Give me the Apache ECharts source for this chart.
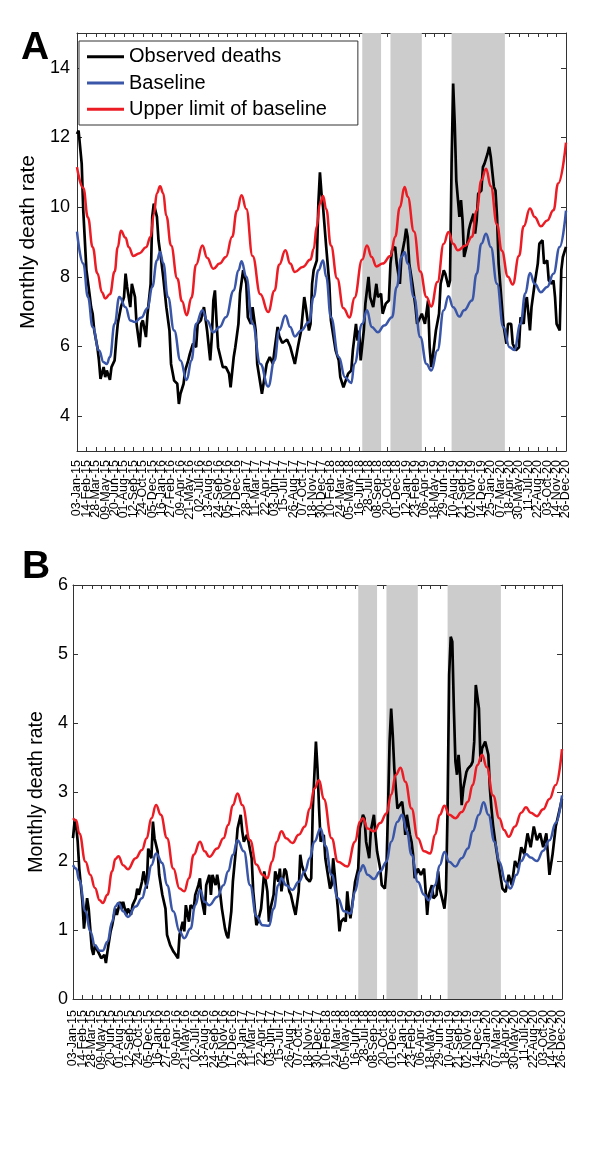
<!DOCTYPE html>
<html><head><meta charset="utf-8">
<script src="https://cdn.jsdelivr.net/npm/echarts@6/dist/echarts.min.js"></script>
<style>html,body{margin:0;padding:0;background:#fff}#c{width:600px;height:1160px}</style>
</head><body><div id="c"></div>
<script>
// Week index 0 = 03-Jan-15, weekly data; tick labels every 6 weeks
const tickLabels = ['03-Jan-15','14-Feb-15','28-Mar-15','09-May-15','20-Jun-15','01-Aug-15','12-Sep-15','24-Oct-15','05-Dec-15',
 '16-Jan-16','27-Feb-16','09-Apr-16','21-May-16','02-Jul-16','13-Aug-16','24-Sep-16','05-Nov-16','17-Dec-16',
 '28-Jan-17','11-Mar-17','22-Apr-17','03-Jun-17','15-Jul-17','26-Aug-17','07-Oct-17','18-Nov-17','30-Dec-17',
 '10-Feb-18','24-Mar-18','05-May-18','16-Jun-18','28-Jul-18','08-Sep-18','20-Oct-18','01-Dec-18',
 '12-Jan-19','23-Feb-19','06-Apr-19','18-May-19','29-Jun-19','10-Aug-19','21-Sep-19','02-Nov-19','14-Dec-19',
 '25-Jan-20','07-Mar-20','18-Apr-20','30-May-20','11-Jul-20','22-Aug-20','03-Oct-20','14-Nov-20','26-Dec-20'];
const bands = [[182,194],[200,220],[239,273]];

// Panel A: [week, rate]
const obsA = [[0,12.1],[1,12.2],[3,11.25],[4,9.9],[6,8.2],[8,7.5],[9,7.13],[10,6.94],[11,6.46],[13,5.98],[14,5.6],[15,5.07],[17,5.41],[18,5.12],[19,5.31],[21,5.04],[22,5.41],[24,5.6],[25,6.17],[26,6.65],[28,7.13],[30,7.42],[31,8.09],[32,7.71],[34,7.13],[35,7.8],[37,7.42],[38,6.65],[40,5.98],[41,6.65],[42,6.75],[44,6.27],[45,6.94],[47,7.8],[48,9.72],[49,10.1],[51,9.72],[52,9.05],[54,8.38],[55,8.0],[57,7.13],[59,6.46],[60,5.5],[62,5.02],[64,4.93],[65,4.35],[66,4.64],[68,4.93],[69,5.31],[71,5.6],[72,5.79],[74,6.08],[76,5.98],[77,6.65],[79,6.75],[81,7.13],[82,7.13],[83,6.46],[85,5.6],[86,6.27],[87,7.32],[88,7.61],[89,6.75],[90,5.98],[92,5.6],[93,5.41],[95,5.41],[97,5.22],[98,4.83],[100,5.7],[101,5.98],[103,6.65],[104,7.52],[106,8.19],[108,7.8],[109,6.84],[111,6.65],[112,7.13],[114,6.46],[115,5.5],[117,4.93],[118,4.64],[120,5.22],[121,5.5],[123,5.7],[125,5.5],[126,5.89],[128,6.56],[129,6.3],[131,6.1],[134,6.2],[136,6.0],[139,5.5],[141,6.0],[143,6.46],[145,7.42],[146,7.13],[148,6.46],[149,6.65],[150,7.8],[151,8.19],[153,8.47],[154,10.1],[155,11.0],[156,10.39],[157,10.0],[159,8.86],[161,7.8],[162,6.75],[165,5.89],[167,5.6],[168,5.12],[170,4.83],[171,4.79],[173,5.22],[175,5.31],[176,5.89],[178,6.65],[179,6.17],[180,6.46],[181,5.6],[183,6.46],[184,7.23],[186,8.0],[187,7.42],[189,7.13],[191,7.8],[192,7.42],[194,7.52],[195,6.94],[197,7.23],[199,7.32],[200,8.38],[201,8.76],[203,8.86],[204,8.38],[206,7.8],[207,8.57],[209,9.05],[210,9.38],[211,9.14],[212,8.38],[214,7.8],[216,7.13],[217,6.65],[219,6.84],[220,6.94],[222,6.65],[224,7.32],[225,5.98],[226,5.41],[227,5.7],[229,6.46],[231,6.94],[232,7.8],[234,8.19],[235,8.09],[237,7.71],[238,7.9],[239,11.25],[240,13.55],[241,12.4],[242,10.77],[244,9.72],[245,10.2],[246,9.62],[247,8.57],[249,8.95],[250,9.34],[251,9.53],[253,9.81],[254,9.24],[255,9.62],[256,10.39],[258,10.48],[259,11.15],[260,11.25],[262,11.54],[263,11.73],[264,11.44],[266,10.58],[267,10.48],[268,9.72],[269,8.38],[271,7.23],[272,6.65],[274,6.08],[275,6.65],[277,6.65],[278,6.08],[280,5.89],[282,5.98],[283,6.84],[285,6.65],[286,7.23],[287,7.42],[289,6.46],[290,7.13],[292,7.8],[294,8.38],[295,8.95],[297,9.05],[298,8.38],[300,8.47],[301,7.9],[303,7.8],[304,7.9],[305,7.42],[306,6.65],[308,6.46],[309,8.19],[310,8.57],[312,8.86]];
const baseA = [[0,9.3],[4,8.38],[7,7.42],[10,6.56],[14,5.89],[17,5.55],[19,5.5],[21,5.7],[24,6.65],[27,7.42],[31,7.13],[34,6.75],[37,6.7],[41,6.83],[45,7.1],[48,7.71],[51,8.47],[53,8.71],[55,8.4],[58,7.42],[62,6.46],[66,5.6],[70,5.04],[73,5.6],[76,6.65],[80,7.04],[83,6.75],[87,6.41],[91,6.56],[95,6.84],[100,7.61],[103,8.19],[105,8.45],[108,8.0],[112,6.65],[117,5.5],[122,4.85],[126,5.6],[129,6.46],[133,6.89],[136,6.56],[139,6.29],[143,6.46],[148,6.7],[151,7.42],[154,8.19],[157,8.47],[159,8.0],[162,6.84],[167,5.7],[171,5.12],[175,4.95],[177,5.5],[182,6.65],[185,7.04],[188,6.56],[192,6.41],[196,6.6],[201,6.84],[204,7.71],[207,8.57],[209,8.71],[211,8.38],[215,7.42],[219,6.27],[223,5.5],[226,5.31],[230,5.89],[234,7.04],[237,7.44],[240,7.13],[244,6.86],[247,7.04],[252,7.32],[255,8.09],[258,8.95],[261,9.24],[264,8.86],[268,7.8],[272,6.56],[276,5.98],[279,5.9],[283,6.65],[286,7.52],[289,8.11],[292,7.8],[296,7.56],[300,7.71],[304,8.09],[308,8.86],[312,9.9]];
const upperA = [[0,11.15],[4,10.55],[7,9.7],[10,8.85],[13,8.1],[16,7.55],[18,7.38],[21,7.5],[24,8.15],[26,8.85],[28,9.32],[31,9.12],[33,8.85],[36,8.6],[40,8.68],[44,8.85],[47,9.15],[49,9.8],[51,10.4],[53,10.6],[55,10.4],[57,9.75],[60,8.9],[64,7.95],[67,7.3],[70,6.9],[73,7.4],[76,8.35],[80,8.9],[83,8.55],[87,8.23],[91,8.38],[95,8.57],[99,9.15],[102,9.9],[105,10.34],[108,9.95],[112,8.6],[117,7.5],[122,6.99],[126,7.6],[129,8.35],[133,8.76],[136,8.38],[139,8.14],[144,8.28],[149,8.5],[151,8.8],[153,9.45],[155,10.1],[157,10.32],[159,9.95],[162,8.9],[166,7.95],[170,7.1],[174,6.83],[177,7.4],[182,8.5],[185,8.9],[188,8.57],[191,8.3],[195,8.38],[200,8.6],[203,9.15],[206,10.0],[209,10.58],[211,10.3],[215,9.3],[219,8.15],[223,7.42],[226,7.15],[230,7.85],[234,8.95],[237,9.29],[240,8.95],[243,8.76],[248,8.9],[252,9.15],[255,9.9],[258,10.77],[261,11.1],[264,10.6],[268,9.5],[271,8.75],[275,8.0],[278,7.78],[282,8.6],[285,9.45],[289,9.96],[292,9.72],[296,9.45],[300,9.62],[304,9.91],[307,10.68],[312,11.85]];

// Panel B: [week, rate]
const obsB = [[0,2.33],[1,2.57],[2,2.52],[3,2.28],[4,1.89],[6,1.41],[7,1.02],[8,1.02],[9,1.46],[10,1.31],[12,0.73],[13,0.64],[14,0.78],[15,0.73],[17,0.64],[18,0.59],[20,0.64],[21,0.52],[22,0.69],[24,0.98],[25,1.07],[27,1.31],[28,1.22],[30,1.41],[31,1.31],[32,1.41],[34,1.22],[35,1.31],[37,1.22],[38,1.36],[40,1.46],[41,1.6],[42,1.51],[44,1.7],[45,1.85],[47,1.6],[48,2.18],[50,2.04],[51,2.57],[52,2.33],[54,2.14],[55,1.8],[57,1.51],[59,1.31],[60,0.93],[62,0.78],[64,0.69],[65,0.66],[67,0.59],[68,0.93],[70,1.12],[71,0.98],[72,1.36],[74,1.12],[75,1.36],[77,1.31],[78,1.51],[80,1.65],[81,1.75],[82,1.46],[84,1.22],[85,1.65],[87,1.8],[88,1.51],[89,1.8],[91,1.65],[92,1.8],[94,1.51],[95,1.31],[97,1.02],[98,0.93],[99,0.88],[101,1.27],[102,1.7],[104,2.18],[105,2.47],[107,2.67],[108,2.43],[109,2.28],[111,2.38],[112,2.28],[114,2.04],[115,1.56],[117,1.07],[118,1.12],[120,1.31],[121,1.56],[122,1.85],[124,1.56],[125,1.12],[126,1.31],[128,1.51],[129,1.85],[131,1.7],[132,1.89],[133,1.56],[135,1.89],[136,1.85],[138,1.56],[139,1.51],[141,1.31],[142,1.22],[144,1.56],[145,2.09],[146,1.94],[148,1.8],[149,1.75],[151,1.7],[152,1.75],[153,2.76],[155,3.73],[156,3.34],[157,2.76],[158,2.28],[160,2.38],[161,2.04],[162,1.89],[164,1.6],[165,1.65],[166,2.04],[167,1.8],[169,1.31],[170,0.98],[171,1.12],[173,1.17],[174,1.12],[175,1.56],[176,1.31],[177,1.17],[179,1.51],[180,1.7],[182,1.89],[183,2.47],[185,2.67],[186,2.62],[187,2.28],[189,2.04],[190,2.43],[192,2.67],[193,2.38],[194,2.14],[196,1.89],[197,1.65],[199,1.6],[200,1.89],[201,2.76],[202,3.73],[203,4.21],[204,3.83],[205,3.34],[207,2.76],[208,2.76],[210,2.86],[211,2.67],[212,2.38],[213,2.67],[215,2.38],[216,2.28],[217,2.09],[218,1.75],[220,1.89],[221,1.89],[222,1.8],[224,1.89],[225,1.56],[226,1.22],[227,1.51],[229,1.65],[230,1.46],[232,1.51],[233,1.85],[234,1.6],[236,1.41],[237,1.31],[238,1.56],[239,2.76],[240,4.7],[241,5.25],[242,5.18],[243,4.21],[244,3.44],[245,3.25],[246,3.54],[247,3.25],[248,2.81],[249,3.05],[251,3.29],[252,3.34],[254,3.39],[255,3.44],[256,3.73],[257,4.55],[258,4.55],[259,4.21],[260,3.44],[261,3.63],[262,3.68],[263,3.73],[265,3.54],[266,3.05],[267,2.76],[268,2.52],[270,2.18],[272,1.89],[274,1.6],[276,1.55],[278,1.8],[280,1.65],[282,2.0],[284,1.9],[286,2.2],[288,2.1],[290,2.4],[292,2.2],[294,2.5],[296,2.3],[298,2.4],[300,2.2],[302,2.4],[304,1.8],[306,2.1],[308,2.5],[310,2.7],[312,2.9]];
const baseB = [[0,1.94],[2,1.89],[4,1.72],[8,1.27],[11,0.98],[14,0.78],[17,0.7],[19,0.7],[22,0.83],[25,1.12],[27,1.34],[29,1.39],[32,1.27],[35,1.19],[40,1.34],[44,1.46],[47,1.65],[50,1.94],[53,2.11],[57,1.97],[60,1.65],[64,1.27],[68,0.98],[71,0.88],[75,1.02],[78,1.36],[81,1.58],[84,1.41],[87,1.36],[92,1.48],[96,1.65],[99,1.85],[102,2.09],[105,2.3],[109,2.14],[113,1.65],[117,1.2],[121,1.07],[125,1.06],[128,1.31],[131,1.65],[133,1.75],[136,1.65],[140,1.58],[144,1.7],[148,1.85],[151,2.04],[154,2.28],[158,2.47],[161,2.22],[165,1.8],[169,1.46],[173,1.27],[177,1.24],[180,1.56],[183,1.85],[185,1.94],[188,1.8],[192,1.74],[196,1.85],[200,1.99],[203,2.28],[207,2.57],[210,2.67],[213,2.43],[216,2.09],[220,1.7],[224,1.51],[227,1.43],[231,1.65],[234,1.94],[237,2.13],[240,1.99],[244,1.92],[248,2.04],[252,2.18],[255,2.43],[259,2.67],[262,2.85],[265,2.67],[269,2.28],[272,1.99],[276,1.7],[279,1.6],[283,1.8],[286,2.0],[289,2.1],[292,2.05],[296,2.0],[300,2.15],[304,2.3],[308,2.55],[312,2.95]];
const upperB = [[0,2.62],[2,2.59],[4,2.4],[8,1.99],[11,1.8],[14,1.61],[17,1.43],[19,1.39],[22,1.51],[25,1.85],[27,2.03],[29,2.07],[32,1.94],[35,1.88],[40,2.04],[44,2.16],[47,2.33],[50,2.62],[53,2.81],[56,2.67],[60,2.33],[64,1.89],[68,1.6],[71,1.56],[74,1.75],[77,2.09],[81,2.28],[84,2.14],[87,2.06],[92,2.18],[96,2.33],[99,2.52],[102,2.81],[105,2.98],[108,2.81],[113,2.3],[117,1.95],[121,1.8],[124,1.75],[127,1.99],[130,2.28],[133,2.43],[136,2.33],[140,2.26],[144,2.38],[148,2.5],[151,2.76],[154,3.05],[157,3.17],[160,2.9],[165,2.33],[169,1.99],[175,1.92],[180,2.28],[183,2.57],[185,2.62],[188,2.47],[192,2.43],[196,2.55],[200,2.69],[203,2.96],[206,3.25],[209,3.35],[212,3.15],[216,2.76],[220,2.33],[224,2.14],[228,2.11],[231,2.38],[234,2.67],[237,2.8],[240,2.67],[244,2.62],[248,2.71],[252,2.86],[255,3.1],[258,3.39],[261,3.54],[264,3.36],[268,2.95],[272,2.62],[275,2.45],[278,2.35],[282,2.5],[286,2.7],[289,2.78],[292,2.7],[296,2.65],[300,2.75],[304,2.9],[308,3.1],[312,3.62]];

const FONT = 'Liberation Sans, Arial, Helvetica, sans-serif';
const AX = '#333';
const BLACK = '#000000', BLUE = '#3a56a8', RED = '#ec1c24';

// Per grid: [0] data axis (value, hidden), [1] bottom tick/label axis (category), [2] top tick axis (category)
function xAxes(gi, labelMargin) {
  const cat = { gridIndex: gi, type: 'category', data: tickLabels, boundaryGap: false,
    axisLine: { show: true, onZero: false, lineStyle: { color: AX, width: 1 } },
    axisTick: { show: true, inside: true, length: 4, interval: 0, lineStyle: { color: AX } },
    splitLine: { show: false } };
  return [
    { gridIndex: gi, type: 'value', min: 0, max: 312, show: false },
    Object.assign({}, cat, { position: 'bottom',
      axisLabel: { show: true, interval: 0, rotate: 90, margin: labelMargin, fontSize: 12.5, color: '#000', fontFamily: FONT } }),
    Object.assign({}, cat, { position: 'top', axisLabel: { show: false } })
  ];
}
function yAxes(gi, min, max, ticks, nameSize, nameGap, labelMargin) {
  const base = { gridIndex: gi, type: 'value', min: min, max: max,
    axisLine: { show: true, onZero: false, lineStyle: { color: AX, width: 1 } },
    axisTick: { show: true, inside: true, length: 5, customValues: ticks, lineStyle: { color: AX } },
    splitLine: { show: false } };
  return [
    Object.assign({}, base, { position: 'left', name: 'Monthly death rate', nameLocation: 'middle', nameGap: nameGap,
      nameTextStyle: { fontSize: nameSize, color: '#000', fontFamily: FONT },
      axisLabel: { show: true, customValues: ticks, margin: labelMargin, fontSize: 18, color: '#000', fontFamily: FONT } }),
    Object.assign({}, base, { position: 'right', axisLabel: { show: false } })
  ];
}
function lineSeries(name, data, color, width, xi, yi, z) {
  return { name: name, type: 'line', data: data, xAxisIndex: xi, yAxisIndex: yi, symbol: 'none',
    smooth: false, lineStyle: { color: color, width: width }, itemStyle: { color: color }, z: z, silent: true };
}
function smoothSeries(name, data, color, xi, yi, z) {
  const s = lineSeries(name, data, color, 2.5, xi, yi, z);
  s.smooth = 0.45; s.smoothMonotone = 'x';
  return s;
}
function bandSeries(xi, yi) {
  return { type: 'line', data: [], xAxisIndex: xi, yAxisIndex: yi, z: 1, silent: true,
    markArea: { silent: true, itemStyle: { color: '#cccccc', opacity: 1 },
      data: bands.map(b => [{ xAxis: b[0] }, { xAxis: b[1] }]) } };
}

const chart = echarts.init(document.getElementById('c'), null, { renderer: 'canvas' });
chart.setOption({
  animation: false,
  backgroundColor: '#fff',
  textStyle: { fontFamily: FONT },
  grid: [
    { left: 77, top: 33, width: 489, height: 418, containLabel: false },
    { left: 73, top: 585, width: 489, height: 414, containLabel: false }
  ],
  xAxis: xAxes(0, 9).concat(xAxes(1, 11)),
  yAxis: yAxes(0, 3, 15, [4, 6, 8, 10, 12, 14], 21, 30, 7).concat(yAxes(1, 0, 6, [0, 1, 2, 3, 4, 5, 6], 19.5, 21, 5)),
  legend: {
    show: true, orient: 'vertical', left: 79, top: 41,
    padding: [5.7, 31, 5.7, 8], itemGap: 6.3, itemWidth: 37, itemHeight: 3,
    borderColor: '#333', borderWidth: 1, backgroundColor: '#fff', selectedMode: false,
    icon: 'rect', z: 10,
    textStyle: { fontSize: 20, lineHeight: 20, color: '#000', fontFamily: FONT },
    data: ['Observed deaths', 'Baseline', 'Upper limit of baseline']
  },
  graphic: [
    { type: 'text', left: 21, top: 29, style: { text: 'A', font: 'bold 39px ' + FONT, fill: '#000' } },
    { type: 'text', left: 22, top: 548, style: { text: 'B', font: 'bold 39px ' + FONT, fill: '#000' } }
  ],
  series: [
    bandSeries(0, 0),
    lineSeries('Observed deaths', obsA, BLACK, 2.7, 0, 0, 3),
    smoothSeries('Baseline', baseA, BLUE, 0, 0, 4),
    smoothSeries('Upper limit of baseline', upperA, RED, 0, 0, 5),
    bandSeries(3, 2),
    lineSeries('Observed deaths', obsB, BLACK, 2.7, 3, 2, 3),
    smoothSeries('Baseline', baseB, BLUE, 3, 2, 4),
    smoothSeries('Upper limit of baseline', upperB, RED, 3, 2, 5)
  ]
});
</script>
</body></html>
